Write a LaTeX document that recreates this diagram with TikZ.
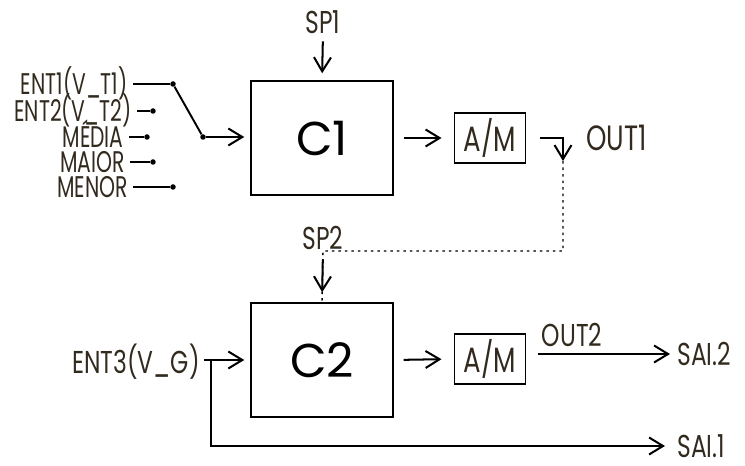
\documentclass[tikz,border=0pt]{standalone}
\usepackage{fontspec}
\setmainfont{Poppins}
\newfontfamily\labfont[FakeStretch=0.74]{Poppins}
\newfontfamily\entfont[FakeStretch=0.68]{Poppins}
\usetikzlibrary{arrows.meta, positioning, calc}
\definecolor{labtext}{RGB}{50,42,30}

\begin{document}
\begin{tikzpicture}[
    x=0.02cm,
    y=-0.02cm,
    ctrl/.style={
        draw=black,
        rectangle,
        minimum width=2.84cm,
        minimum height=2.28cm,
        inner sep=0pt,
        line width=0.85pt,
        font=\fontsize{27}{27}\selectfont
    },
    amode/.style={
        draw=black,
        rectangle,
        minimum width=1.43cm,
        minimum height=1.0cm,
        inner sep=0pt,
        line width=0.85pt,
        text=labtext,
        font=\labfont\fontsize{20}{20}\selectfont
    },
    lab/.style={
        text=labtext,
        inner xsep=0pt,
        inner ysep=0pt,
        text height=12.6pt,
        text depth=0pt,
        font=\labfont\fontsize{18}{18}\selectfont
    },
    biglab/.style={
        lab,
        text height=14pt,
        font=\labfont\fontsize{20}{20}\selectfont
    },
    entlab/.style={
        lab,
        text height=11.9pt,
        font=\entfont\fontsize{17}{17}\selectfont
    },
    dot/.style={
        circle,
        fill=black,
        inner sep=0pt,
        minimum size=0.11cm
    },
    wire/.style={
        line width=1.1pt,
        draw=black
    },
    arrow/.style={
        -{Straight Barb[length=2.8mm,width=3.4mm]},
        line width=1.15pt,
        draw=black
    },
    feedback/.style={
        line width=0.8pt,
        dash pattern=on 1.5pt off 2.2pt
    }
]
\useasboundingbox (0,0) rectangle (745,466);

% ============================================================
% Top loop: C1 with selectable input
% ============================================================

\node[ctrl] (c1) at (322,138) {C1};
\node[amode] (am1) at (490,138) {A/M};
\node[lab] (sp1) at (323,22) {SP1};
\node[biglab, anchor=west] (out1) at (586,138) {OUT1};

\foreach \n/\txt/\y/\xe/\xd in {e1/ENT1(V\_T1)/84/128/173,
                                 e2/ENT2(V\_T2)/111/132/153,
                                 med/MÉDIA/137/124/147,
                                 mai/MAIOR/162/125/153,
                                 men/MENOR/187/128/173} {
    \node[entlab, anchor=east] (\n) at (\xe,\y) {\txt};
    \node[dot] (d\n) at (\xd,\y) {};
    \draw[wire, shorten <=3pt] (\n.east) -- (d\n);
}

\node[dot] (sw) at (203,137) {};
\draw[wire] (de1) -- (sw);
\draw[arrow, shorten >=0.12cm] (sw) -- (sw -| c1.west);

\draw[arrow, shorten <=0.16cm, shorten >=0.14cm] (sp1.south) -- (c1.north);
\draw[arrow, shorten <=0.2cm, shorten >=0.24cm] (c1.east) -- (am1.west);

\coordinate (t1) at (563,161);
\draw[arrow, shorten <=0.28cm] (am1.east) -| (t1);

% ============================================================
% Bottom loop: C2, set point from OUT1
% ============================================================

\node[ctrl] (c2) at (322,360) {C2};
\node[amode] (am2) at (490,359) {A/M};
\node[lab] (sp2) at (323,238) {SP2};
\node[lab, anchor=east] (ent3) at (200,362) {ENT3(V\_G)};
\node[lab, anchor=west] (sai2) at (677,354) {SAI.2};
\node[lab, anchor=west] (sai1) at (677,446) {SAI.1};
\node[lab] (out2) at (572,335) {OUT2};

\coordinate (j2) at (323,251);
\draw[feedback] (t1) |- (j2) -- (c2.north);

\draw[arrow, shorten <=0.2cm, shorten >=0.2cm] (sp2.south) -- (c2.north);
\draw[arrow, shorten <=0.2cm, shorten >=0.24cm] (c2.east) -- (am2.west);
\draw[arrow, shorten <=0.24cm, shorten >=0.14cm] (am2.east |- sai2.west) -- (sai2.west);

\coordinate (j3) at (211,360);
\draw[arrow, shorten <=0.08cm, shorten >=0.12cm] (ent3.east |- c2.west) -- (c2.west);
\draw[arrow, shorten >=0.24cm] (j3) |- (sai1.west);
\end{tikzpicture}
\end{document}
